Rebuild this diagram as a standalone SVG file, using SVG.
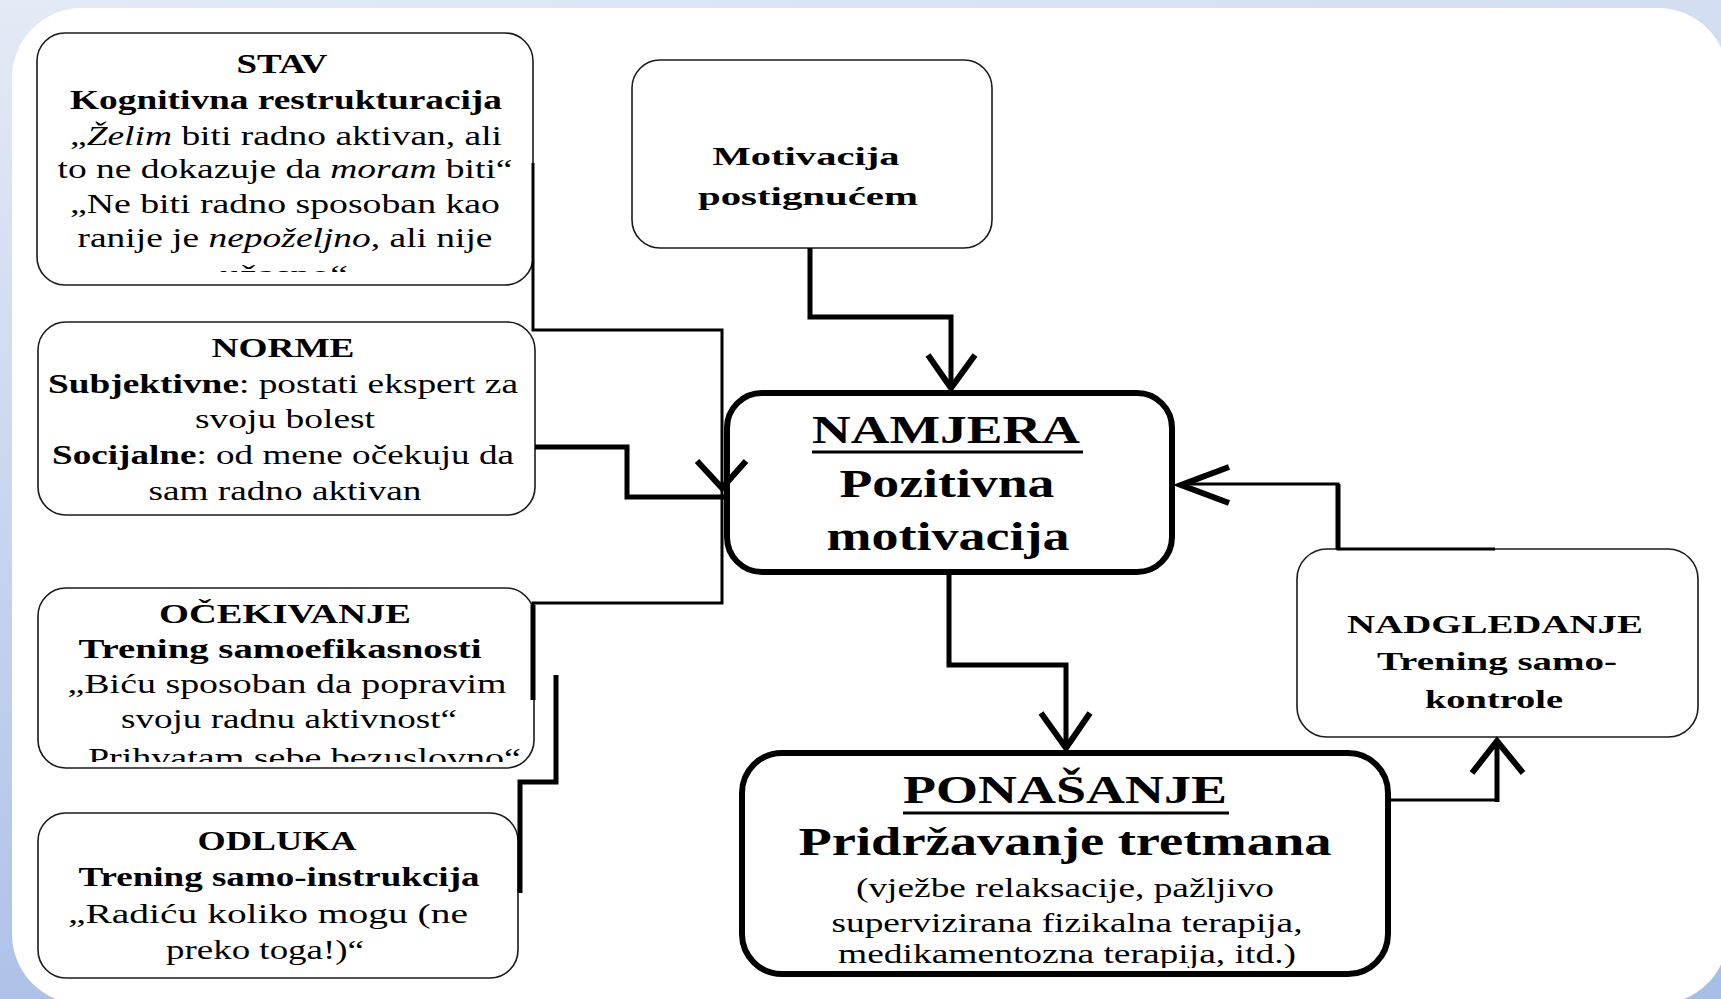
<svg xmlns="http://www.w3.org/2000/svg" width="1721" height="999" viewBox="0 0 1721 999">
<defs>
<linearGradient id="bg" x1="0" y1="0" x2="0.3" y2="1">
<stop offset="0" stop-color="#e4eaf6"/>
<stop offset="1" stop-color="#a9bee7"/>
</linearGradient>
<clipPath id="clipStav"><rect x="30" y="30" width="510" height="242"/></clipPath>
<clipPath id="clipOcek"><rect x="30" y="580" width="510" height="182"/></clipPath>
<clipPath id="clipPon"><rect x="740" y="750" width="650" height="218"/></clipPath>
</defs>
<style>
.box{fill:#fff;stroke:#1a1a1a;stroke-width:1.6}
.bbox{fill:#fff;stroke:#000;stroke-width:6}
.t{font-family:"Liberation Serif","Times New Roman",serif;fill:#000;text-anchor:middle}
.s28{font-size:28px}
.s26{font-size:26px}
.s40{font-size:40px}
.b{font-weight:bold}
.i{font-style:italic}
.c{fill:none;stroke:#000;stroke-linejoin:miter;stroke-linecap:butt}
.th{stroke-width:3}
.tk{stroke-width:5}
.ar{fill:none;stroke:#000;stroke-width:6;stroke-linejoin:miter}
.ul{stroke:#000;stroke-width:3}
</style>
<rect x="0" y="0" width="1721" height="999" fill="url(#bg)"/>
<rect x="12" y="8" width="1716" height="996" rx="70" fill="#ffffff"/>

<g id="stav">
<rect class="box" x="37" y="33" width="496" height="252" rx="28"/>
<text class="t s28 b" x="282" y="73" textLength="91" lengthAdjust="spacingAndGlyphs">STAV</text>
<text class="t s28 b" x="286" y="109" textLength="432" lengthAdjust="spacingAndGlyphs">Kognitivna restrukturacija</text>
<text class="t s28" x="286" y="145" textLength="432" lengthAdjust="spacingAndGlyphs">„<tspan class="i">Želim</tspan> biti radno aktivan, ali</text>
<text class="t s28" x="285" y="178" textLength="455" lengthAdjust="spacingAndGlyphs">to ne dokazuje da <tspan class="i">moram</tspan> biti“</text>
<text class="t s28" x="285" y="213" textLength="430" lengthAdjust="spacingAndGlyphs">„Ne biti radno sposoban kao</text>
<text class="t s28" x="285" y="247" textLength="415" lengthAdjust="spacingAndGlyphs">ranije je <tspan class="i">nepoželjno</tspan>, ali nije</text>
<g clip-path="url(#clipStav)"><text class="t s28" x="284" y="284" textLength="128" lengthAdjust="spacingAndGlyphs">užasno“</text></g>
</g>

<g id="norme">
<rect class="box" x="38" y="322" width="497" height="193" rx="28"/>
<text class="t s28 b" x="283" y="357" textLength="143" lengthAdjust="spacingAndGlyphs">NORME</text>
<text class="t s28" x="283" y="393" textLength="470" lengthAdjust="spacingAndGlyphs"><tspan class="b">Subjektivne</tspan>: postati ekspert za</text>
<text class="t s28" x="285" y="428" textLength="180" lengthAdjust="spacingAndGlyphs">svoju bolest</text>
<text class="t s28" x="283" y="464" textLength="462" lengthAdjust="spacingAndGlyphs"><tspan class="b">Socijalne</tspan>: od mene očekuju da</text>
<text class="t s28" x="285" y="500" textLength="273" lengthAdjust="spacingAndGlyphs">sam radno aktivan</text>
</g>

<g id="ocekivanje">
<rect class="box" x="38" y="588" width="496" height="180" rx="28"/>
<text class="t s28 b" x="285" y="623" textLength="252" lengthAdjust="spacingAndGlyphs">OČEKIVANJE</text>
<text class="t s28 b" x="280" y="658" textLength="403" lengthAdjust="spacingAndGlyphs">Trening samoefikasnosti</text>
<text class="t s28" x="287" y="693" textLength="439" lengthAdjust="spacingAndGlyphs">„Biću sposoban da popravim</text>
<text class="t s28" x="289" y="728" textLength="336" lengthAdjust="spacingAndGlyphs">svoju radnu aktivnost“</text>
<g clip-path="url(#clipOcek)"><text class="t s28" x="296" y="767" textLength="450" lengthAdjust="spacingAndGlyphs">„Prihvatam sebe bezuslovno“</text></g>
</g>

<g id="odluka">
<rect class="box" x="38" y="813" width="480" height="165" rx="28"/>
<text class="t s28 b" x="277" y="850" textLength="159" lengthAdjust="spacingAndGlyphs">ODLUKA</text>
<text class="t s28 b" x="279" y="886" textLength="401" lengthAdjust="spacingAndGlyphs">Trening samo-instrukcija</text>
<text class="t s28" x="268" y="923" textLength="400" lengthAdjust="spacingAndGlyphs">„Radiću koliko mogu (ne</text>
<text class="t s28" x="265" y="959" textLength="198" lengthAdjust="spacingAndGlyphs">preko toga!)“</text>
</g>

<g id="motivacija">
<rect class="box" x="632" y="60" width="360" height="188" rx="28"/>
<text class="t s26 b" x="806" y="165" textLength="187" lengthAdjust="spacingAndGlyphs">Motivacija</text>
<text class="t s26 b" x="808" y="205" textLength="220" lengthAdjust="spacingAndGlyphs">postignućem</text>
</g>

<g id="namjera">
<rect class="bbox" x="727" y="393" width="445" height="179" rx="35"/>
<text class="t s40 b" x="946" y="443" textLength="268" lengthAdjust="spacingAndGlyphs">NAMJERA</text>
<line class="ul" x1="812" y1="452" x2="1083" y2="452"/>
<text class="t s40 b" x="947" y="497" textLength="215" lengthAdjust="spacingAndGlyphs">Pozitivna</text>
<text class="t s40 b" x="948" y="550" textLength="243" lengthAdjust="spacingAndGlyphs">motivacija</text>
</g>

<g id="ponasanje">
<rect class="bbox" x="742" y="753" width="646" height="221" rx="40"/>
<text class="t s40 b" x="1065" y="803" textLength="324" lengthAdjust="spacingAndGlyphs">PONAŠANJE</text>
<line class="ul" x1="903" y1="813" x2="1229" y2="813"/>
<text class="t s40 b" x="1065" y="855" textLength="533" lengthAdjust="spacingAndGlyphs">Pridržavanje tretmana</text>
<text class="t s28" x="1065" y="897" textLength="418" lengthAdjust="spacingAndGlyphs">(vježbe relaksacije, pažljivo</text>
<text class="t s28" x="1067" y="932" textLength="471" lengthAdjust="spacingAndGlyphs">supervizirana fizikalna terapija,</text>
<g clip-path="url(#clipPon)"><text class="t s28" x="1067" y="963" textLength="458" lengthAdjust="spacingAndGlyphs">medikamentozna terapija, itd.)</text></g>
</g>

<g id="nadgledanje">
<rect class="box" x="1297" y="549" width="401" height="188" rx="30"/>
<text class="t s26 b" x="1495" y="633" textLength="296" lengthAdjust="spacingAndGlyphs">NADGLEDANJE</text>
<text class="t s26 b" x="1497" y="670" textLength="240" lengthAdjust="spacingAndGlyphs">Trening samo-</text>
<text class="t s26 b" x="1494" y="708" textLength="138" lengthAdjust="spacingAndGlyphs">kontrole</text>
</g>

<g id="connectors">
<path class="c th" d="M533,163 V330 H722 V603 H533 V700"/>
<path class="c tk" d="M535,447 H627 V497 H724"/>
<path class="c tk" d="M533,605 V700"/>
<path class="c tk" d="M520,893 V782 H556 V675"/>
<path class="c tk" d="M810,248 V317 H951 V386"/>
<path class="c tk" d="M949,575 V665 H1066 V746"/>
<path class="c th" d="M1390,800 H1497"/>
<path class="c tk" d="M1497,802 V744"/>
<path class="c th" d="M1495,549 H1338 V484 H1185"/>
<path class="c tk" d="M1338,549 V484"/>
<path class="ar" d="M697,461 L722,488 L746,461"/>
<path class="ar" d="M928,355 L951,388 L975,355"/>
<path class="ar" d="M1041,713 L1066,748 L1090,713"/>
<path class="ar" d="M1472,773 L1497,741 L1523,773"/>
<path class="ar" d="M1229,467 L1181,485 L1229,503"/>
</g>
</svg>
